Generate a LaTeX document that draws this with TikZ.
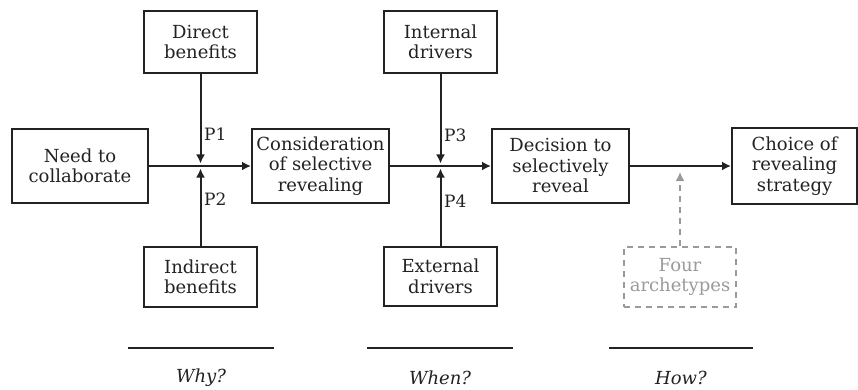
\documentclass[tikz,border=0pt]{standalone}
\usepackage{fontspec}
\setmainfont{DejaVu Serif}
\usetikzlibrary{arrows.meta}
\definecolor{ink}{HTML}{222222}
\definecolor{faint}{HTML}{9A9A9A}
\tikzset{
  box/.style={draw=ink, line width=2pt, text=ink, inner sep=0pt, align=center,
    font=\fontsize{18}{20.5}\selectfont},
  conn/.style={draw=ink, line width=2pt, -{Latex[length=9pt,width=9pt]}},
  dconn/.style={draw=faint, line width=1.6pt, dashed, dash pattern=on 6pt off 5pt, -{Latex[length=9pt,width=9pt]}},
  plabel/.style={text=ink, inner sep=0pt, anchor=west, font=\fontsize{17}{18}\selectfont},
  qlabel/.style={text=ink, inner sep=0pt, font=\fontsize{18}{20}\selectfont\itshape},
  rule/.style={draw=ink, line width=1.6pt}
}
\begin{document}
\begin{tikzpicture}[x=1pt,y=-1pt]
\useasboundingbox (0,0) rectangle (858,390);
% main row
\node[box, minimum width=136pt, minimum height=74pt] (need) at (80,166) {Need to\\collaborate};
\node[box, minimum width=137pt, minimum height=74pt] (cons) at (320.5,166) {Consideration\\of selective\\revealing};
\node[box, minimum width=137pt, minimum height=74pt] (dec) at (560.5,166) {Decision to\\selectively\\reveal};
\node[box, minimum width=125pt, minimum height=75pt] (choice) at (794.5,166) {Choice of\\revealing\\strategy};
% upper and lower boxes
\node[box, minimum width=113pt, minimum height=62pt] (direct) at (200.5,42) {Direct\\benefits};
\node[box, minimum width=113pt, minimum height=60pt] (indirect) at (200.5,277) {Indirect\\benefits};
\node[box, minimum width=113pt, minimum height=62pt] (internal) at (440.5,42) {Internal\\drivers};
\node[box, minimum width=113pt, minimum height=59pt] (external) at (440.5,276.5) {External\\drivers};
\node[box, draw=faint, text=faint, dashed, dash pattern=on 6pt off 5pt, line width=1.6pt,
  minimum width=112pt, minimum height=60pt] (four) at (680,277) {Four\\archetypes};
% junctions
\coordinate (j1) at (200.5,166);
\coordinate (j2) at (440.5,166);
\coordinate (jd) at (680,172);
% connectors
\draw[conn] (need.east) -- (cons.west);
\draw[conn] (cons.east) -- (dec.west);
\draw[conn] (dec.east) -- (choice.west);
\draw[conn, shorten >=2.5pt] (direct.south) -- (j1);
\draw[conn, shorten >=2.5pt] (indirect.north) -- (j1);
\draw[conn, shorten >=2.5pt] (internal.south) -- (j2);
\draw[conn, shorten >=2.5pt] (external.north) -- (j2);
\draw[dconn] (four.north) -- (jd);
% proposition labels
\node[plabel] (p1) at (204,134) {P1};
\node[plabel] (p2) at (204,199) {P2};
\node[plabel] (p3) at (444,135) {P3};
\node[plabel] (p4) at (444,201) {P4};
% bottom rules and questions
\coordinate (w1) at (128,348); \coordinate (w2) at (274,348);
\coordinate (n1) at (367,348); \coordinate (n2) at (513,348);
\coordinate (h1) at (609,348); \coordinate (h2) at (753,348);
\draw[rule] (w1) -- (w2);
\draw[rule] (n1) -- (n2);
\draw[rule] (h1) -- (h2);
\node[qlabel] (why) at (201,378) {Why?};
\node[qlabel] (when) at (440,378) {When?};
\node[qlabel] (how) at (681,378) {How?};
\end{tikzpicture}
\end{document}
